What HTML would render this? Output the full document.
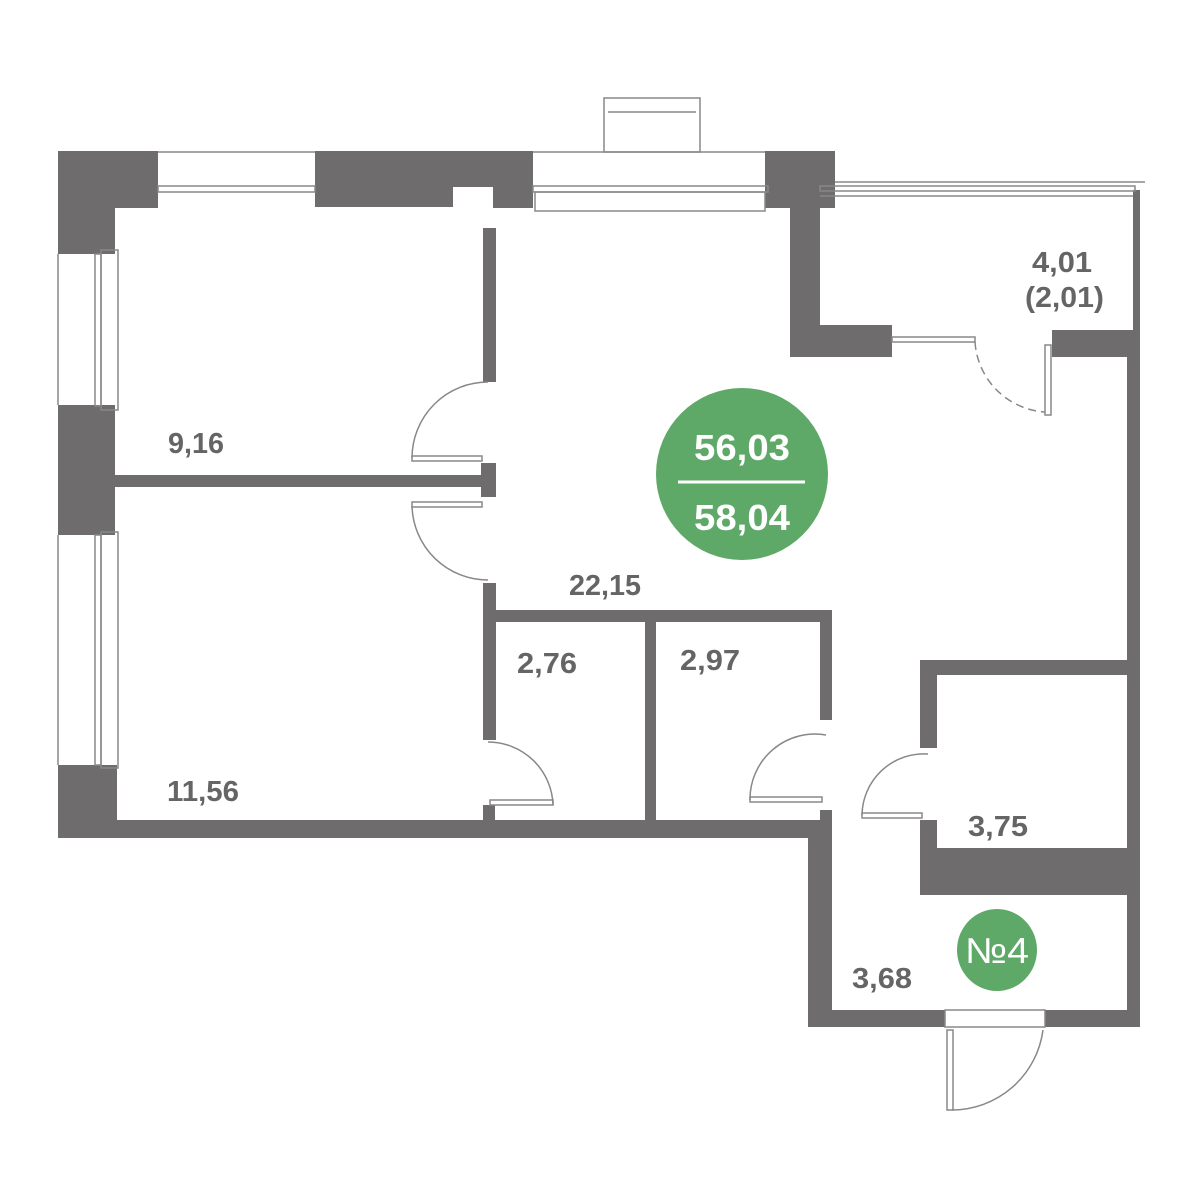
<!DOCTYPE html>
<html><head><meta charset="utf-8"><style>html,body{margin:0;padding:0;background:#fff}svg{display:block}</style></head>
<body>
<svg width="1200" height="1200" viewBox="0 0 1200 1200" xmlns="http://www.w3.org/2000/svg">
<g fill="#6e6c6d">
<!-- top-left corner -->
<rect x="58" y="151" width="100" height="57"/>
<rect x="58" y="151" width="57" height="103"/>
<!-- left walls -->
<rect x="58" y="405" width="57" height="130"/>
<rect x="58" y="765" width="59" height="73"/>
<!-- top block -->
<rect x="315" y="151" width="218" height="36"/>
<rect x="315" y="151" width="138" height="56"/>
<rect x="493" y="151" width="40" height="57"/>
<!-- partition walls -->
<rect x="483" y="228" width="13" height="154"/>
<rect x="115" y="475" width="370" height="12"/>
<rect x="481" y="463" width="15" height="34"/>
<rect x="483" y="583" width="13" height="157"/>
<rect x="483" y="610" width="349" height="12"/>
<rect x="820" y="610" width="12" height="110"/>
<rect x="645" y="622" width="11" height="200"/>
<rect x="483" y="805" width="12" height="20"/>
<rect x="820" y="810" width="12" height="20"/>
<!-- bottom wall -->
<rect x="58" y="820" width="774" height="18"/>
<rect x="808" y="820" width="24" height="207"/>
<rect x="808" y="1010" width="137" height="17"/>
<rect x="1045" y="1010" width="95" height="17"/>
<rect x="1127" y="330" width="13" height="697"/>
<!-- 3,75 room -->
<rect x="920" y="660" width="220" height="15"/>
<rect x="920" y="660" width="17" height="88"/>
<rect x="920" y="820" width="17" height="75"/>
<rect x="920" y="848" width="220" height="47"/>
<!-- balcony -->
<rect x="765" y="151" width="70" height="57"/>
<rect x="790" y="151" width="30" height="206"/>
<rect x="790" y="325" width="102" height="32"/>
<rect x="1052" y="330" width="88" height="27"/>
<rect x="1133" y="190" width="7" height="140"/>
</g>
<g fill="none" stroke="#888" stroke-width="1.5">
<!-- windows -->
<line x1="158" y1="152" x2="315" y2="152"/>
<rect x="158" y="186" width="157" height="6"/>
<line x1="533" y1="152" x2="765" y2="152"/>
<rect x="533" y="186" width="235" height="6"/>
<rect x="535" y="192" width="230" height="19"/>
<rect x="604" y="98" width="96" height="54"/>
<line x1="608" y1="112" x2="696" y2="112"/>
<line x1="58" y1="254" x2="58" y2="405"/>
<rect x="95" y="254" width="6" height="152"/>
<rect x="101" y="250" width="17" height="160"/>
<line x1="58" y1="535" x2="58" y2="765"/>
<rect x="95" y="535" width="6" height="230"/>
<rect x="101" y="532" width="17" height="236"/>
<line x1="835" y1="182" x2="1145" y2="182"/>
<rect x="820" y="186" width="315" height="5"/>
<line x1="820" y1="196" x2="1133" y2="196"/>
<!-- doors -->
<path d="M488 382 A76 76 0 0 0 412 458"/>
<rect x="412" y="456" width="70" height="5"/>
<rect x="412" y="502" width="70" height="5"/>
<path d="M412 506 A76 76 0 0 0 488 580"/>
<path d="M488 742 A65 65 0 0 1 553 805"/>
<rect x="490" y="800" width="63" height="5"/>
<path d="M826 735 A65 65 0 0 0 750 800"/>
<rect x="750" y="797" width="72" height="5"/>
<path d="M928 754 A62 62 0 0 0 862 815"/>
<rect x="862" y="813" width="60" height="5"/>
<rect x="945" y="1010" width="100" height="17"/>
<rect x="947" y="1030" width="6" height="80"/>
<path d="M952 1110 A92 92 0 0 0 1043 1030"/>
<rect x="892" y="337" width="83" height="5"/>
<path d="M975 342 A75 75 0 0 0 1045 412" stroke-dasharray="8 5"/>
<rect x="1045" y="345" width="6" height="70"/>
</g>
<g font-family="'Liberation Sans Narrow','Liberation Sans',sans-serif" font-weight="bold" fill="#656565" font-size="29">
<text x="168" y="453" textLength="56" lengthAdjust="spacingAndGlyphs">9,16</text>
<text x="167" y="801" textLength="72" lengthAdjust="spacingAndGlyphs">11,56</text>
<text x="569" y="595" textLength="72" lengthAdjust="spacingAndGlyphs">22,15</text>
<text x="517" y="673" textLength="60" lengthAdjust="spacingAndGlyphs">2,76</text>
<text x="680" y="670" textLength="60" lengthAdjust="spacingAndGlyphs">2,97</text>
<text x="1032" y="272" textLength="60" lengthAdjust="spacingAndGlyphs">4,01</text>
<text x="1025" y="307" textLength="79" lengthAdjust="spacingAndGlyphs">(2,01)</text>
<text x="968" y="836" textLength="60" lengthAdjust="spacingAndGlyphs">3,75</text>
<text x="852" y="988" textLength="60" lengthAdjust="spacingAndGlyphs">3,68</text>
</g>
<circle cx="742" cy="474" r="86" fill="#5ea868"/>
<g font-family="'Liberation Sans Narrow','Liberation Sans',sans-serif" font-weight="bold" fill="#fff" font-size="36" text-anchor="middle">
<text x="742" y="460" textLength="96" lengthAdjust="spacingAndGlyphs">56,03</text>
<text x="742" y="530" textLength="96" lengthAdjust="spacingAndGlyphs">58,04</text>
</g>
<line x1="678" y1="482" x2="805" y2="482" stroke="#fff" stroke-width="3"/>
<ellipse cx="997" cy="950" rx="40" ry="41" fill="#5ea868"/>
<text x="997" y="963" font-family="'Liberation Sans Narrow','Liberation Sans',sans-serif" font-size="36" fill="#fff" text-anchor="middle" textLength="64" lengthAdjust="spacingAndGlyphs">№4</text>
</svg>
</body></html>
